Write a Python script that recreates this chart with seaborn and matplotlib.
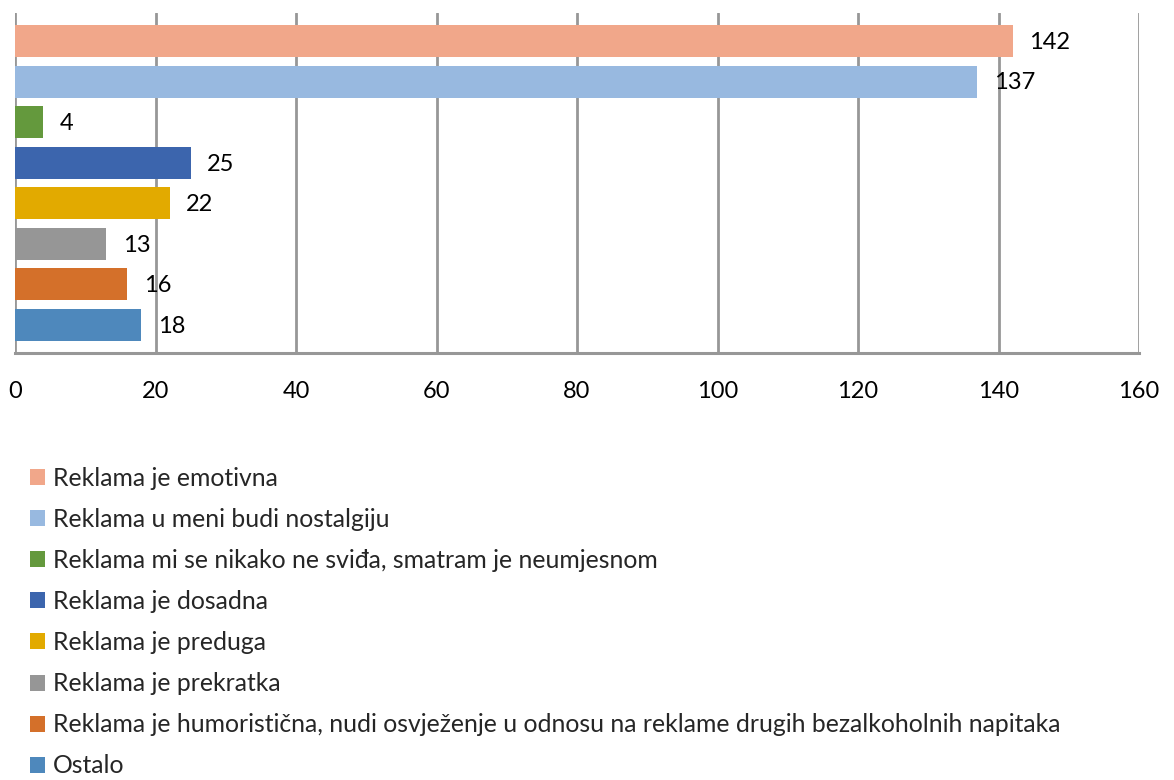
import matplotlib
matplotlib.use("Agg")
import matplotlib.pyplot as plt
import seaborn as sns
import pandas as pd
from matplotlib.patches import Patch

categories = [
    "Reklama je emotivna",
    "Reklama u meni budi nostalgiju",
    "Reklama mi se nikako ne sviđa, smatram je neumjesnom",
    "Reklama je dosadna",
    "Reklama je preduga",
    "Reklama je prekratka",
    "Reklama je humoristična, nudi osvježenje u odnosu na reklame drugih bezalkoholnih napitaka",
    "Ostalo",
]
values = [142, 137, 4, 25, 22, 13, 16, 18]
colors = ["#F1A78A", "#98B9E0", "#64993D", "#3C65AD",
          "#E2AA00", "#969696", "#D4702A", "#4E88BC"]
x_ticks = [0, 20, 40, 60, 80, 100, 120, 140, 160]

sns.set_theme(style="white")
plt.rcParams["font.family"] = ["Lato", "DejaVu Sans"]

df = pd.DataFrame({"kategorija": categories, "broj": values})

fig = plt.figure(figsize=(11.74, 7.8), dpi=100)
ax = fig.add_axes([15 / 1174, 1 - 353 / 780, (1139 - 15) / 1174, (353 - 13) / 780])

sns.barplot(data=df, x="broj", y="kategorija", hue="kategorija",
            palette=colors, order=categories, hue_order=categories,
            dodge=False, legend=False, width=0.79, saturation=1,
            linewidth=0, ax=ax)

ax.set_xlim(0, 160)
ax.set_ylim(7.69, -0.69)
ax.set_xticks(x_ticks)
ax.set_xticklabels([str(t) for t in x_ticks], fontsize=17, color="#000000")
ax.tick_params(axis="x", length=0, pad=20)
ax.set_yticks([])
ax.set_xlabel("")
ax.set_ylabel("")

grid_col = "#979797"
for t in x_ticks:
    ax.axvline(t, color=grid_col, lw=2, zorder=0)
for side in ["top", "right", "left"]:
    ax.spines[side].set_visible(False)
ax.spines["bottom"].set_color(grid_col)
ax.spines["bottom"].set_linewidth(2.2)

for i, v in enumerate(values):
    ax.annotate(str(v), xy=(v, i), xytext=(12, -1), textcoords="offset points",
                ha="left", va="center", fontsize=17, color="#000000")

handles = [Patch(facecolor=c, edgecolor="none") for c in colors]
fig.legend(handles, categories, loc="upper left",
           bbox_to_anchor=(30 / 1174, 1 - 467 / 780), frameon=False,
           fontsize=17.8, handlelength=0.62, handleheight=0.62,
           handletextpad=0.3, labelspacing=0.73, borderaxespad=0,
           borderpad=0)

fig.savefig("out.png", dpi=100)
